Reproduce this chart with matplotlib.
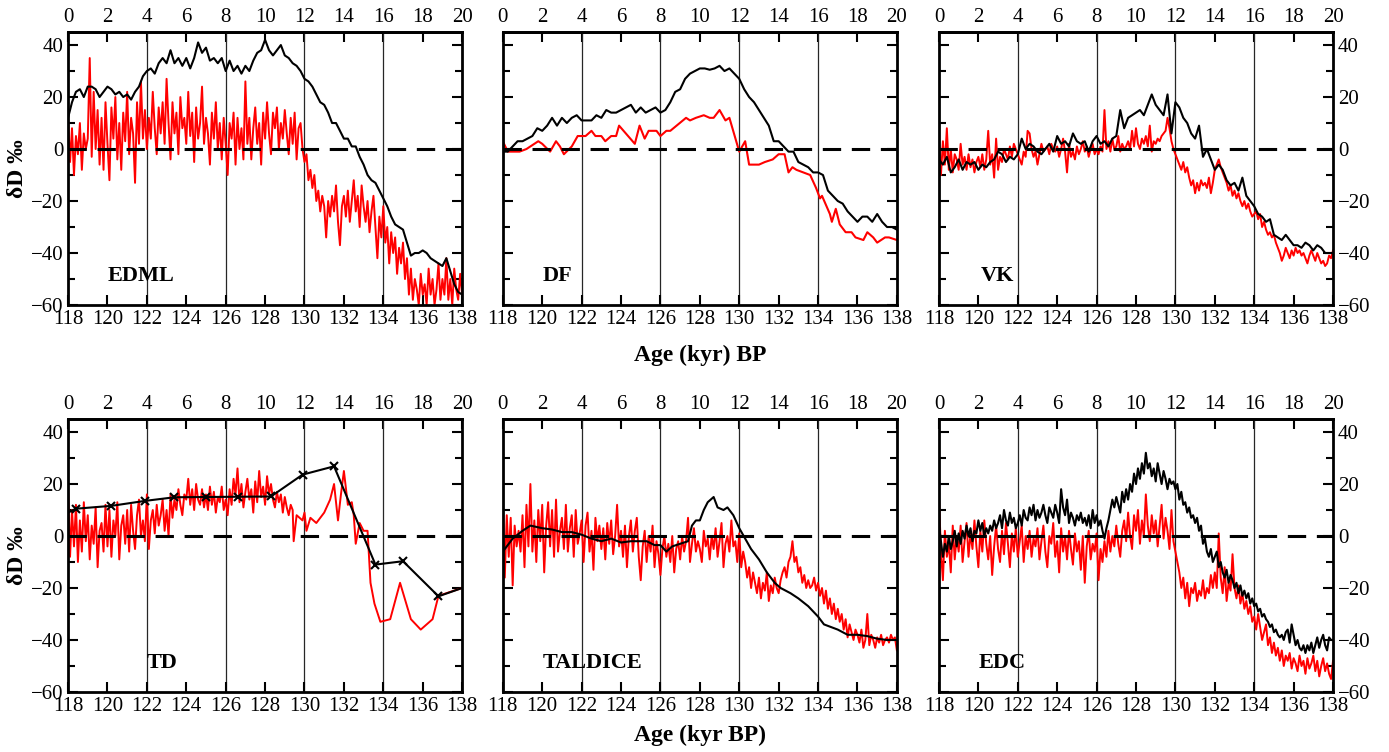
import numpy as np
import matplotlib
matplotlib.use('Agg')
import matplotlib.pyplot as plt
from matplotlib.ticker import MultipleLocator

plt.rcParams['font.family'] = ['Liberation Serif', 'DejaVu Serif']
plt.rcParams['axes.unicode_minus'] = True

# ---------------- data (age in kyr BP, dD in permil) ----------------
# EDML
edml_black = [12, 18, 22, 23, 20, 24, 24, 23, 20, 22, 24, 23, 21, 22, 20, 21, 19, 22, 24, 28,
              30, 31, 29, 33, 35, 33, 38, 33, 35, 32, 35, 31, 35, 41, 37, 39, 34, 35, 33, 35,
              30, 34, 30, 32, 29, 32, 30, 34, 37, 38, 42, 38, 36, 38, 40, 36, 35, 33, 32, 30,
              27, 26, 24, 21, 18, 17, 14, 10, 10, 7, 4, 4, 1, 1, -3, -6, -10, -12, -13, -16,
              -19, -22, -26, -29, -30, -31, -36, -41, -40, -40, -39, -40, -42, -43, -44, -45,
              -42, -47, -52, -55, -56]
edml_red = [12, -5, 8, -10, 5, -2, 10, -8, 6, 0, 4,
            35, -3, 22, 0, 15, -6, 12, -8, 18, 2,
            -12, 16, 4, 20, -4, 10, -8, 14, 3, 22,
            -2, 12, 6, -13, 18, 2, 26, 4, 15, 0,
            12, 4, 22, 8, -2, 16, 6, 18, 2, 27,
            10, -4, 18, 6, 14, -2, 20, 8, 12, 2,
            22, 5, 14, -5, 16, 4, 10, 24, 2, 12,
            6, -6, 14, 4, 18, 0, 10, -4, 12, 2,
            -10, 10, 4, 14, -6, 12, 0, 8, -4, 26,
            2, 12, -4, 8, 16, 2, 10, -6, 14, 4,
            18, 6, -2, 14, 8, 16, 0, 10, 4, 15,
            6, -2, 12, 2, 14, -4, 8, 10, 0, -5,
            -2, -12, -8, -15, -10, -20, -16, -24, -18, -22,
            -34, -20, -26, -18, -24, -14, -28, -37, -22, -18,
            -26, -16, -28, -20, -12, -24, -18, -30, -14, -22,
            -28, -20, -32, -24, -18, -30, -42, -26, -34, -22,
            -36, -30, -44, -32, -40, -34, -48, -38, -44, -36,
            -50, -42, -56, -46, -58, -50, -54, -60, -48, -56,
            -52, -60, -46, -56, -50, -60, -54, -44, -58, -50,
            -56, -42, -58, -50, -60, -46, -54, -58, -48, -56]

# DF
df_black = [-1, -1, 1, 3, 3, 4, 5, 8, 7, 9, 12, 9, 12, 10, 12, 13, 11, 11, 11, 13,
            12, 15, 14, 14, 15, 16, 17, 14, 16, 14, 15, 16, 14, 15, 18, 22, 23, 27, 29, 30,
            31, 31, 30.5, 31, 32, 30, 31, 29, 27, 23, 20, 18, 15, 12, 9, 3, 3, 1, -1, -1,
            -5, -6, -7, -9, -9, -10, -16, -18, -20, -21, -24, -26, -28, -26, -26, -28, -25, -28, -30, -30,
            -31]
df_red_age = [118.0, 118.25, 118.85, 119.2, 119.4, 119.8, 120.0, 120.4, 120.7, 120.9, 121.1, 121.5,
              121.8, 122.2, 122.5, 122.7, 123.0, 123.2, 123.5, 123.75, 123.9, 124.7, 124.94, 125.2,
              125.4, 125.8, 126.0, 126.3, 126.5, 127.3, 127.5, 127.8, 128.2, 128.5, 128.7, 129.0,
              129.3, 129.5, 130.0, 130.3, 130.5, 131.0, 131.3, 131.7, 132.0, 132.3, 132.5, 132.7,
              132.9, 133.6, 133.9, 134.1, 134.2, 134.6, 134.7, 134.9, 135.1, 135.4, 135.7, 135.9,
              136.3, 136.5, 136.8, 137.0, 137.4, 137.6, 138.0]
df_red = [3, -1, -1, 0, 1, 3, 2, -1, 3, 1, -2, 1,
          5, 5, 7, 5, 5, 3, 5, 5, 9, 2, 9, 4,
          7, 7, 5, 7, 7, 12, 11, 12, 13, 12, 12, 15,
          11, 12, -1, 3, -6, -6, -5, -4, -2, -2, -9, -7,
          -8, -10, -15, -19, -18, -25, -28, -23, -29, -32, -32, -34,
          -35, -32, -34, -36, -34, -34, -35]

# VK
vk_black = [-4, -6, -3, -9, -7, -4, -8, -5, -6, -5, -8, -6, -7, -5, -4, -1, -2, -5, -3, -4,
            -2, 4, 0, 2, 1, -1, -2, 0, 2, -1, 5, 2, 3, 1, 6, 3, 2, 3, -1, 3,
            5, 2, 3, 1, 4, 5, 15, 8, 12, 13, 14, 15, 13, 17, 21, 17, 15, 13, 21, 6,
            18, 16, 12, 10, 6, 4, 9, -3, 0, -4, -8, -6, -8, -12, -14, -13, -16, -11, -18, -20,
            -22, -25, -26, -28, -27, -33, -34, -35, -33, -35, -37, -37, -38, -36, -37, -39, -37, -38, -40, -40,
            -40]
vk_red = [2, -10, 3, -6, 8, -8, 0, -9, -2, -4,
          -8, 2, -6, -3, -8, -2, -7, -4, -9, -5,
          -3, -7, -2, -8, -4, 7, -6, -2, -11, 4,
          -8, -3, -5, 0, -2, -4, 1, -3, 2, 0,
          -2, -4, -6, -1, -3, 7, 6, 0, -3, -1,
          -6, -2, 2, -1, 0, 1, -2, 2, 0, -1,
          1, -3, 0, 4, -1, -9, 2, -3, -1, -4,
          1, -2, 0, 3, -1, 1, -3, 0, 2, -2,
          0, -2, 1, -1, 15, 0, 3, -1, 4, 0,
          1, 5, -1, 2, 0, 1, 3, 0, 7, 1,
          8, 2, 0, 4, 2, 5, 1, 9, -1, 3,
          2, 4, 3, 5, 6, 7, 12, 8, 3, 0,
          -2, -4, -6, -8, -5, -9, -7, -11, -14, -12,
          -17, -13, -16, -12, -14, -13, -15, -11, -17, -13,
          -8, -6, -4, -7, -9, -11, -13, -16, -14, -18,
          -16, -19, -17, -20, -22, -20, -23, -21, -24, -26,
          -25, -24, -27, -25, -30, -28, -31, -33, -32, -34,
          -33, -36, -38, -40, -43, -41, -38, -40, -42, -39,
          -41, -38, -40, -39, -41, -40, -42, -44, -41, -39,
          -41, -43, -40, -42, -44, -43, -45, -44, -41, -42,
          -39]

# TD
td_black_age = [118.0, 118.4, 120.2, 121.9, 123.4, 125.0, 126.6, 128.3, 129.9, 131.5, 133.6, 135.0, 136.8, 138.0]
td_black = [9, 10.5, 11.6, 13.5, 14.9, 15.0, 15.1, 15.2, 23.6, 26.8, -11, -9.7, -23.2, -20]
td_red_noisy = [19, -8, 10, -4, 12, -10, 6, -6, 13, -2,
                8, -9, 4, -3, 11, -12, 2, 5, -6, 12,
                -4, 10, -8, 6, 0, 13, -9, 4, 8, -3,
                10, -6, 12, 2, -5, 8, 14, 0, 6, -2,
                16, -5, 6, 10, 1, 12, 4, 8, 14, 2,
                10, 0, 16, 7, 14, 10, 18, 12, 8, 16,
                14, 22, 12, 18, 10, 20, 14, 12, 18, 11,
                16, 10, 19, 12, 17, 9, 15, 13, 19, 10,
                14, 8, 18, 12, 22, 16, 26, 13, 20, 11,
                17, 22, 14, 18, 9, 21, 13, 25, 15, 19,
                12, 23, 16, 20, 14, 11, 17, 13, 16, 9,
                15, 11, 8, 12]
td_red_tail_age = [129.4, 129.45, 129.6, 129.9, 130.0, 130.1, 130.3, 130.6, 131.0, 131.3, 131.5, 131.7,
                   131.85, 132.0, 132.2, 132.4, 132.5, 132.6, 132.8, 133.0, 133.2, 133.35, 133.55, 133.85,
                   134.35, 134.85, 135.4, 135.9, 136.5, 136.8, 137.2, 138.0]
td_red_tail = [10, -2, 8, 6, 9, 2, 7, 5, 9, 14, 20, 6,
               16, 25, 12, 13, 8, -3, 5, 2, 2, -18, -26, -33,
               -32, -18, -32, -36, -32, -23, -22, -20]

# TALDICE
tal_black_age = [118.0, 118.5, 119.0, 119.4, 120.0, 120.5, 121.0, 121.5, 122.0, 122.5, 123.0, 123.5,
                 124.0, 124.5, 125.0, 125.3, 125.7, 126.0, 126.3, 126.6, 127.0, 127.4, 127.6, 127.8,
                 128.0, 128.2, 128.4, 128.7, 128.9, 129.2, 129.4, 129.7, 130.0, 130.3, 130.6, 131.0,
                 131.4, 131.8, 132.1, 132.6, 133.0, 133.5, 134.0, 134.3, 135.0, 135.5, 136.0, 136.5,
                 137.0, 137.5, 138.0]
tal_black = [-6, -1, 2, 4, 3, 2.5, 1.5, 1.5, 0.5, -1, -2, -1,
             -2.5, -2, -2, -2, -3.5, -3.5, -6, -4, -3, -2, 4, 6,
             6, 10, 13, 15, 11, 10, 11, 8, 3, -1, -5, -9,
             -14, -18, -20, -22, -24, -27, -31, -34, -36, -38, -38, -38.5,
             -39.5, -40, -40]
tal_red = [9, -16, 8, -8, 7, -19, 4, -4, 2, -6,
           8, -12, 12, -4, 20, -6, 6, -10, 10, -2,
           12, -14, 4, 13, -4, 10, -8, 14, -6, 2,
           7, -5, 12, -6, 3, 8, -8, 10, -3, 1,
           6, -10, 4, 9, -6, 2, -13, 7, -2, 4,
           -5, 3, -9, 5, -3, 6, -7, 0, 12, -4,
           2, -8, 4, -12, 0, 6, -6, 2, 7, -8,
           -17, -4, 2, -10, 0, -6, 4, -12, -2, -7,
           -15, -5, 0, -8, -3, -10, 0, -14, -5, -2,
           -9, 0, -6, -2, 7, -10, -3, 3, -6, -2,
           -5, -10, 2, -4, -1, -9, 0, -5, 3, -8,
           -2, 5, -12, -3, 0, -6, 6, -4, -2, -10,
           1, -12, -6, -10, -16, -12, -20, -14, -18, -22,
           -16, -24, -18, -21, -14, -25, -19, -22, -16, -20,
           -22, -17, -14, -12, -16, -10, -8, -2, -10, -8,
           -14, -12, -18, -15, -20, -17, -20, -19, -16, -21,
           -18, -23, -20, -26, -21, -28, -24, -30, -26, -32,
           -28, -33, -30, -36, -32, -39, -34, -37, -40, -36,
           -38, -41, -36, -43, -40, -30, -42, -38, -40, -43,
           -39, -41, -38, -42, -40, -39, -41, -38, -40, -39,
           -44]

# EDC
edc_black = [4, -2, -8, -3, -6, 0, -5, -2, 2, -4,
             1, -3, 2, -1, 4, 0, 3, -2, 2, 1,
             6, 2, 5, 0, 3, 1, 4, 2, 6, 3,
             5, 8, 3, 10, 6, 4, 9, 5, 7, 3,
             5, 8, 4, 10, 7, 6, 11, 8, 12, 6,
             10, 7, 9, 12, 8, 5, 11, 9, 7, 12,
             9, 5, 18, 11, 8, 14, 5, 9, 7, 4,
             8, 6, 9, 5, 7, 4, 8, 3, 10, 5,
             8, 4, 6, 2, -1, 3, 6, 10, 14, 11,
             15, 12, 9, 17, 13, 18, 14, 20, 17, 24,
             20, 26, 22, 28, 24, 32, 26, 28, 23, 26,
             21, 28, 24, 20, 25, 22, 18, 22, 20, 21,
             18, 20, 14, 17, 12, 13, 9, 11, 7, 8,
             5, 7, 2, 4, -3, -1, -6, -8, -5, -10,
             -8, -6, -12, -10, -14, -16, -13, -18, -15, -17,
             -20, -18, -22, -19, -23, -21, -24, -22, -26, -24,
             -27, -26, -29, -28, -31, -30, -32, -33, -35, -34,
             -37, -36, -38, -39, -38, -40, -37, -36, -41, -34,
             -38, -42, -40, -43, -44, -42, -45, -42, -44, -41,
             -45, -42, -39, -43, -40, -38, -42, -44, -39, -40,
             -40]
edc_red = [15, -6, -17, 2, -8, -3, -14, 4, -9, 0,
           -6, 4, -10, -2, 5, -8, 1, -5, 6, -4,
           -12, 2, -6, 6, -3, -9, 0, -15, -4, 4,
           -5, -10, 2, -7, 5, -3, -12, 1, -6, 3,
           -8, -2, 4, -10, 0, -5, 2, -8, -1, -4,
           3, -9, -2, 4, -6, -12, 0, -3, 5, -8,
           -2, -14, 3, -6, 0, -9, 2, -5, -11, 1,
           -6, -2, -13, 0, -18, -4, 2, -9, -3, -6,
           1, -17, -5, -10, -2, -8, 2, -6, 0, -4,
           4, -3, -8, 2, 6, -2, 9, 0, -5, 8,
           2, 10, -3, 6, 0, 16, 4, -2, 8, 1,
           6, -4, 4, 12, -1, 7, 2, -5, 10, -2,
           -6, -10, -14, -20, -16, -24, -18, -27, -20, -22,
           -18, -25, -21, -23, -17, -24, -20, -22, -15, -20,
           -14, -20, 1, -16, -22, -12, -25, -18, -21, -7,
           -20, -24, -19, -26, -22, -28, -25, -30, -27, -33,
           -31, -36, -30, -35, -40, -37, -34, -42, -39, -45,
           -41, -46, -43, -48, -44, -50, -46, -48, -45, -51,
           -47, -49, -52, -46, -50, -48, -53, -47, -51, -49,
           -46, -52, -48, -54, -50, -47, -52, -49, -53, -55,
           -48]

site_names = ['EDML', 'DF', 'VK', 'TD', 'TALDICE', 'EDC']
site_label_pos = [(120.0, -49), (120.0, -49), (120.1, -49), (122.0, -49), (120.0, -49), (120.0, -49)]
vlines_at = [122, 126, 130, 134]


def grid(vals):
    # evenly sampled record from 118 to 138 kyr
    return np.linspace(118, 138, len(vals))


fig = plt.figure(figsize=(13.89, 7.52), dpi=100)
lefts = [0.049, 0.362, 0.676]
bottoms = [0.5944, 0.0798]
w, h = 0.2837, 0.363

axes = []
for r in range(2):
    for c in range(3):
        ax = fig.add_axes([lefts[c], bottoms[r], w, h])
        axes.append(ax)

for k, ax in enumerate(axes):
    for v in vlines_at:
        ax.axvline(v, color='0.15', lw=0.9, zorder=1)
    ax.axhline(0, color='k', lw=2.2, dashes=(6, 3.5), zorder=4)

# curves
axes[0].plot(grid(edml_red), edml_red, color='red', lw=1.4, zorder=2)
axes[0].plot(grid(edml_black), edml_black, color='k', lw=1.5, zorder=3)

axes[1].plot(df_red_age, df_red, color='red', lw=1.5, zorder=2)
axes[1].plot(grid(df_black), df_black, color='k', lw=1.5, zorder=3)

axes[2].plot(grid(vk_red), vk_red, color='red', lw=1.4, zorder=2)
axes[2].plot(grid(vk_black), vk_black, color='k', lw=1.5, zorder=3)

td_red_age = list(np.round(np.arange(len(td_red_noisy)) * 0.1 + 118.0, 2)) + td_red_tail_age
axes[3].plot(td_red_age, td_red_noisy + td_red_tail, color='red', lw=1.4, zorder=2)
axes[3].plot(td_black_age, td_black, color='k', lw=1.5, marker='x', ms=6, mew=1.5,
             markevery=slice(1, -1), zorder=5)

axes[4].plot(grid(tal_red), tal_red, color='red', lw=1.4, zorder=2)
axes[4].plot(tal_black_age, tal_black, color='k', lw=1.5, zorder=3)

axes[5].plot(grid(edc_red), edc_red, color='red', lw=1.4, zorder=2)
axes[5].plot(grid(edc_black), edc_black, color='k', lw=1.5, zorder=3)

for k, ax in enumerate(axes):
    ax.set_xlim(118, 138)
    ax.set_ylim(-60, 45)
    ax.xaxis.set_major_locator(MultipleLocator(2))
    ax.yaxis.set_major_locator(MultipleLocator(20))
    ax.yaxis.set_minor_locator(MultipleLocator(10))
    ax.tick_params(which='both', direction='in', top=False, right=True, left=True,
                   labelsize=15, width=1.5)
    ax.tick_params(which='major', length=7)
    ax.tick_params(which='minor', length=5)
    for s in ax.spines.values():
        s.set_linewidth(2)
    col = k % 3
    if col == 1:
        ax.tick_params(labelleft=False)
    elif col == 2:
        ax.tick_params(labelleft=False, labelright=True)
    else:
        ax.set_ylabel('δD ‰', fontsize=17, fontweight='bold', labelpad=2)
    top = ax.secondary_xaxis('top', functions=(lambda x: x - 118, lambda x: x + 118))
    top.xaxis.set_major_locator(MultipleLocator(2))
    top.tick_params(direction='in', length=7, width=1.5, labelsize=15)
    top.spines['top'].set_linewidth(2)
    lx, ly = site_label_pos[k]
    ax.text(lx, ly, site_names[k], fontsize=16, fontweight='bold', va='center', ha='left', zorder=6)

fig.text(0.504, 0.528, 'Age (kyr) BP', ha='center', va='center', fontsize=17, fontweight='bold')
fig.text(0.504, 0.022, 'Age (kyr BP)', ha='center', va='center', fontsize=17, fontweight='bold')

plt.savefig('out.png', dpi=100)
